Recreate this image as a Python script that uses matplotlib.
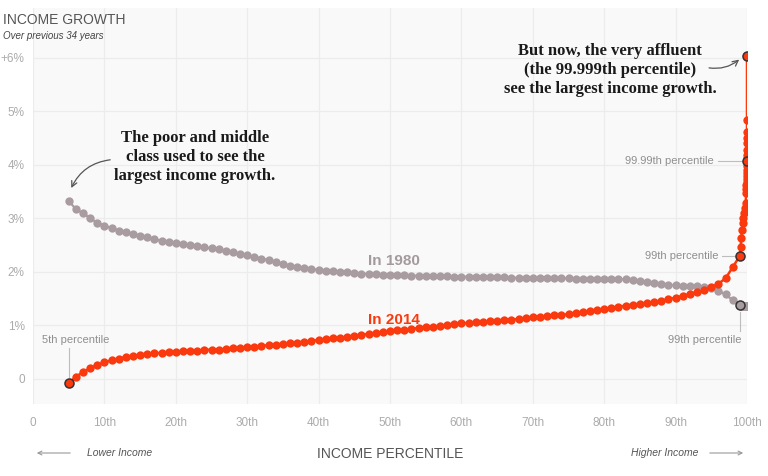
import matplotlib
matplotlib.use("Agg")
import matplotlib.pyplot as plt

# ---------------------------------------------------------------------------
# Data (annual income growth, % over previous 34 years, by percentile)
# ---------------------------------------------------------------------------

pct_main = list(range(5, 100))
pct_top = [99.1, 99.2, 99.3, 99.4, 99.5, 99.6, 99.7, 99.8, 99.9,
           99.91, 99.92, 99.93, 99.94, 99.95, 99.96, 99.97, 99.98, 99.99,
           99.991, 99.992, 99.993, 99.994, 99.995, 99.996, 99.997, 99.999]

growth_1980_main = [
    3.33, 3.17, 3.10, 3.00, 2.92, 2.86, 2.82, 2.77, 2.74, 2.71,
    2.68, 2.65, 2.61, 2.58, 2.56, 2.54, 2.52, 2.50, 2.48, 2.46,
    2.44, 2.42, 2.39, 2.37, 2.34, 2.31, 2.28, 2.25, 2.22, 2.19,
    2.15, 2.12, 2.09, 2.07, 2.05, 2.04, 2.02, 2.01, 2.00, 1.99,
    1.98, 1.97, 1.96, 1.96, 1.95, 1.95, 1.94, 1.94, 1.93, 1.93,
    1.93, 1.92, 1.92, 1.92, 1.91, 1.91, 1.91, 1.91, 1.90, 1.90,
    1.90, 1.90, 1.89, 1.89, 1.89, 1.89, 1.89, 1.88, 1.88, 1.88,
    1.88, 1.87, 1.87, 1.87, 1.87, 1.86, 1.86, 1.86, 1.86, 1.85,
    1.83, 1.81, 1.79, 1.77, 1.76, 1.75, 1.74, 1.74, 1.73, 1.72,
    1.70, 1.65, 1.58, 1.47, 1.38,
]
growth_1980_top = [1.37] * len(pct_top)

growth_2014_main = [
    -0.08, 0.04, 0.13, 0.20, 0.26, 0.31, 0.35, 0.38, 0.41, 0.43,
    0.45, 0.47, 0.48, 0.49, 0.50, 0.51, 0.52, 0.53, 0.53, 0.54,
    0.55, 0.55, 0.56, 0.57, 0.58, 0.59, 0.60, 0.62, 0.63, 0.64,
    0.66, 0.67, 0.68, 0.70, 0.71, 0.73, 0.74, 0.76, 0.77, 0.79,
    0.81, 0.83, 0.84, 0.86, 0.88, 0.90, 0.91, 0.92, 0.94, 0.95,
    0.97, 0.98, 0.99, 1.01, 1.02, 1.04, 1.05, 1.06, 1.07, 1.08,
    1.09, 1.10, 1.11, 1.12, 1.14, 1.15, 1.16, 1.17, 1.19, 1.20,
    1.21, 1.23, 1.25, 1.27, 1.29, 1.31, 1.33, 1.35, 1.37, 1.39,
    1.40, 1.42, 1.44, 1.46, 1.49, 1.52, 1.55, 1.59, 1.62, 1.66,
    1.71, 1.78, 1.88, 2.09, 2.30,
]
growth_2014_top = [
    2.47, 2.63, 2.79, 2.91, 3.00, 3.10, 3.20, 3.28, 3.47,
    3.55, 3.62, 3.68, 3.74, 3.79, 3.84, 3.90, 3.98, 4.07,
    4.12, 4.19, 4.28, 4.40, 4.50, 4.62, 4.84, 6.04,
]

x_ticks = [0, 10, 20, 30, 40, 50, 60, 70, 80, 90, 100]
x_labels = ["0", "10th", "20th", "30th", "40th", "50th",
            "60th", "70th", "80th", "90th", "100th"]
y_ticks = [0, 1, 2, 3, 4, 5, 6]
y_labels = ["0", "1%", "2%", "3%", "4%", "5%", "+6%"]

# highlighted points (percentile, value)
highlights_2014 = [(5, -0.08), (99, 2.30), (99.99, 4.07), (99.999, 6.04)]
highlights_1980 = [(99, 1.38)]

RED = "#fa3a0e"
GREY = "#a89ca1"
TICK = "#ababab"
SANS = "Liberation Sans"
SERIF = "Liberation Serif"

# ---------------------------------------------------------------------------
# Figure
# ---------------------------------------------------------------------------

fig = plt.figure(figsize=(7.68, 4.76), dpi=100)
ax = fig.add_axes([33 / 768, 1 - 404 / 476, 714 / 768, 396 / 476])
ax.set_facecolor("#f9f9f9")
for s in ax.spines.values():
    s.set_visible(False)

ax.set_xlim(0, 100)
ax.set_ylim(-0.467, 6.93)
ax.set_xticks(x_ticks)
ax.set_xticklabels(x_labels)
ax.set_yticks(y_ticks)
ax.set_yticklabels(y_labels)
ax.tick_params(length=0, colors=TICK, labelsize=8.5, pad=6)
ax.tick_params(axis="x", pad=9)
for lab in ax.get_xticklabels() + ax.get_yticklabels():
    lab.set_fontfamily(SANS)
ax.grid(True, color="#ececec", lw=0.9, zorder=0)

x_all = pct_main + pct_top
ax.plot(x_all, growth_1980_main + growth_1980_top, color=GREY, lw=1.6,
        marker="o", ms=6, mec="none", zorder=3)
ax.plot(x_all, growth_2014_main + growth_2014_top, color=RED, lw=1.8,
        marker="o", ms=6, mec="none", zorder=4)

for px, py in highlights_2014:
    ax.plot(px, py, marker="o", ms=6.5, color=RED, mec="#333333", mew=1.1,
            zorder=6)
for px, py in highlights_1980:
    ax.plot(px, py, marker="o", ms=6.5, color=GREY, mec="#333333", mew=1.1,
            zorder=6)

# series labels
ax.text(50.5, 2.2, "In 1980", color="#a39a9e", fontsize=11, fontweight="bold",
        family=SANS, ha="center", va="center", zorder=7)
ax.text(50.5, 1.1, "In 2014", color=RED, fontsize=11, fontweight="bold",
        family=SANS, ha="center", va="center", zorder=7)

# percentile callouts
lab_kw = dict(color="#8f8f8f", fontsize=8, family=SANS, zorder=7)
ax.text(1.2, 0.72, "5th percentile", ha="left", va="center", **lab_kw)
ax.plot([5, 5], [0.04, 0.57], color="#bdbdbd", lw=0.8, zorder=2)
ax.text(95.4, 4.07, "99.99th percentile", ha="right", va="center", **lab_kw)
ax.plot([95.9, 99.6], [4.07, 4.07], color="#bdbdbd", lw=0.8, zorder=2)
ax.text(96.0, 2.30, "99th percentile", ha="right", va="center", **lab_kw)
ax.plot([96.5, 98.6], [2.30, 2.30], color="#bdbdbd", lw=0.8, zorder=2)
ax.text(99.2, 0.73, "99th percentile", ha="right", va="center", **lab_kw)
ax.plot([99, 99], [0.9, 1.25], color="#bdbdbd", lw=0.8, zorder=2)

# story annotations
note_kw = dict(fontsize=12, fontweight="bold", family=SERIF, color="#1a1a1a",
               ha="center", va="center", linespacing=1.25, zorder=7)
ax.text(22.7, 4.15, "The poor and middle\nclass used to see the\nlargest income growth.",
        **note_kw)
ax.annotate("", xy=(5.2, 3.52), xytext=(11.2, 4.1),
            arrowprops=dict(arrowstyle="->", color="#555555", lw=0.9,
                            connectionstyle="arc3,rad=0.3"), zorder=7)
ax.text(80.8, 5.78, "But now, the very affluent\n(the 99.999th percentile)\nsee the largest income growth.",
        **note_kw)
ax.annotate("", xy=(99.2, 6.0), xytext=(94.3, 5.82),
            arrowprops=dict(arrowstyle="->", color="#555555", lw=0.9,
                            connectionstyle="arc3,rad=0.25"), zorder=7)

# header and axis captions
fig.text(3 / 768, 1 - 20 / 476, "INCOME GROWTH", fontsize=10, family=SANS,
         color="#555555", va="center", ha="left")
fig.text(3 / 768, 1 - 36 / 476, "Over previous 34 years", fontsize=7,
         family=SANS, style="italic", color="#444444", va="center", ha="left")
fig.text(390 / 768, 1 - 454 / 476, "INCOME PERCENTILE", fontsize=10,
         family=SANS, color="#555555", va="center", ha="center")
fig.text(87 / 768, 1 - 453 / 476, "Lower Income", fontsize=7.5, family=SANS,
         style="italic", color="#555555", va="center", ha="left")
fig.text(698 / 768, 1 - 453 / 476, "Higher Income", fontsize=7.5, family=SANS,
         style="italic", color="#555555", va="center", ha="right")
fig.add_artist(matplotlib.patches.FancyArrowPatch(
    (73 / 768, 1 - 453 / 476), (34 / 768, 1 - 453 / 476),
    transform=fig.transFigure, arrowstyle="->", mutation_scale=7,
    color="#999999", lw=0.8))
fig.add_artist(matplotlib.patches.FancyArrowPatch(
    (707 / 768, 1 - 453 / 476), (746 / 768, 1 - 453 / 476),
    transform=fig.transFigure, arrowstyle="->", mutation_scale=7,
    color="#999999", lw=0.8))

fig.savefig("out.png", dpi=100)
